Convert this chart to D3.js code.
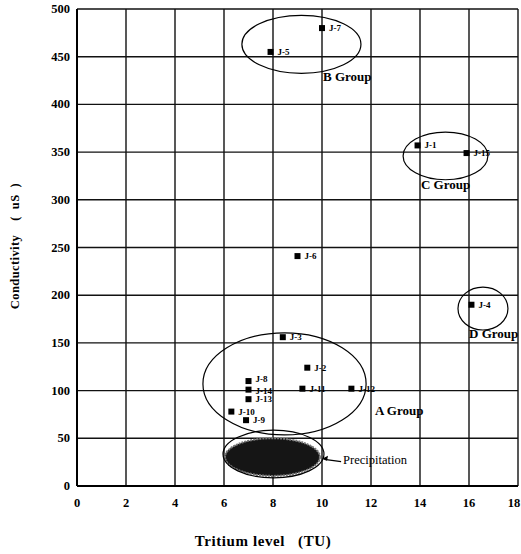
<!DOCTYPE html>
<html>
<head>
<meta charset="utf-8">
<script src="https://cdn.jsdelivr.net/npm/d3@7"></script>
<style>
  body { margin: 0; background: #fff; }
  svg { font-family: "Liberation Serif", "DejaVu Serif", serif; font-weight: bold; }
  .tick-label { font-size: 12.5px; }
  .pt-label { font-size: 9px; }
  .grp-label { font-size: 13px; }
</style>
</head>
<body>
<svg width="521" height="554"></svg>
<script>
// sample wells: tritium (TU) vs conductivity (uS)
const wells = ['J-7', 'J-5', 'J-1', 'J-15', 'J-6', 'J-4', 'J-3', 'J-2', 'J-11', 'J-12', 'J-8', 'J-14', 'J-13', 'J-10', 'J-9']
const tritium = [10.0, 7.9, 13.9, 15.9, 9.0, 16.1, 8.4, 9.4, 9.2, 11.2, 7.0, 7.0, 7.0, 6.3, 6.9]
const conductivity = [480, 455, 357, 349, 241, 190, 156, 124, 102, 102, 110, 101, 91, 78, 69]

// group ellipses, in data units
const groupNames = ['B Group', 'C Group', 'D Group', 'A Group', 'Precipitation']
const groupCx = [9.16, 15.04, 16.57, 8.47, 8.02]
const groupCy = [463, 346, 186, 107, 33.5]
const groupRx = [2.43, 1.73, 1.02, 3.33, 2.06]
const groupRy = [30.4, 25, 22.5, 53.5, 25]
const labelX = [10.04, 14.04, 16.0, 12.16, 10.86]
const labelY = [425, 311, 155, 74, 23]

const xTicks = [0, 2, 4, 6, 8, 10, 12, 14, 16, 18]
const yTicks = [0, 50, 100, 150, 200, 250, 300, 350, 400, 450, 500]

const svg = d3.select('svg')

const x = d3.scaleLinear().domain([0, 18]).range([77, 518])
const y = d3.scaleLinear().domain([0, 500]).range([486, 9])

// grid
svg.append('g')
  .selectAll('line.vx')
  .data(xTicks)
  .enter()
  .append('line')
  .attr('x1', d => x(d)).attr('x2', d => x(d))
  .attr('y1', y(0)).attr('y2', y(500))
  .style('stroke', '#111').style('stroke-width', 1.4)

svg.append('g')
  .selectAll('line.hy')
  .data(yTicks)
  .enter()
  .append('line')
  .attr('x1', x(0)).attr('x2', x(18))
  .attr('y1', d => y(d)).attr('y2', d => y(d))
  .style('stroke', '#111').style('stroke-width', 1.4)

// axes frame heavier
svg.append('line').attr('x1', x(0)).attr('x2', x(0)).attr('y1', y(0)).attr('y2', y(500))
  .style('stroke', '#000').style('stroke-width', 2)
svg.append('line').attr('x1', x(0)).attr('x2', x(18)).attr('y1', y(0)).attr('y2', y(0))
  .style('stroke', '#000').style('stroke-width', 2)

// tick labels
svg.append('g')
  .selectAll('text')
  .data(yTicks)
  .enter()
  .append('text')
  .attr('class', 'tick-label')
  .attr('x', 70)
  .attr('y', d => y(d) + 4)
  .attr('text-anchor', 'end')
  .text(d => d)

// last x label sits against the right edge, as in the scan
svg.append('g')
  .selectAll('text')
  .data(xTicks)
  .enter()
  .append('text')
  .attr('class', 'tick-label')
  .attr('x', d => d === 18 ? x(d) - 4 : x(d))
  .attr('y', 507)
  .attr('text-anchor', 'middle')
  .text(d => d)

// axis titles
svg.append('text')
  .attr('x', 263).attr('y', 546)
  .attr('text-anchor', 'middle')
  .style('font-size', '15px')
  .style('letter-spacing', '0.6px')
  .attr('xml:space', 'preserve')
  .text('Tritium level   (TU)')

svg.append('text')
  .attr('transform', 'translate(19, 246) rotate(-90)')
  .attr('text-anchor', 'middle')
  .style('font-size', '12.5px')
  .style('letter-spacing', '0.4px')
  .attr('xml:space', 'preserve')
  .text('Conductivity    (  uS  )')

// precipitation blob (filled) inside its ellipse
const i = groupNames.indexOf('Precipitation')
svg.append('ellipse')
  .attr('cx', x(groupCx[i]) - 1)
  .attr('cy', y(groupCy[i]) + 3)
  .attr('rx', x(groupRx[i]) - x(0) - 3)
  .attr('ry', y(0) - y(groupRy[i]) - 5)
  .style('fill', '#151515')
  .style('stroke', '#777').style('stroke-width', 2).style('stroke-dasharray', '2 1')

// group ellipses
svg.append('g')
  .selectAll('ellipse')
  .data(groupNames)
  .enter()
  .append('ellipse')
  .attr('cx', (d, k) => x(groupCx[k]))
  .attr('cy', (d, k) => y(groupCy[k]))
  .attr('rx', (d, k) => x(groupRx[k]) - x(0))
  .attr('ry', (d, k) => y(0) - y(groupRy[k]))
  .style('fill', 'none')
  .style('stroke', '#000').style('stroke-width', 1.2)

// group labels
svg.append('g')
  .selectAll('text')
  .data(groupNames)
  .enter()
  .append('text')
  .attr('class', 'grp-label')
  .attr('x', (d, k) => x(labelX[k]))
  .attr('y', (d, k) => y(labelY[k]))
  .style('font-size', (d) => d === 'Precipitation' ? '12.5px' : '13px')
  .style('font-weight', (d) => d === 'Precipitation' ? 'normal' : 'bold')
  .text(d => d)

// arrow to precipitation
svg.append('line')
  .attr('x1', x(10.78)).attr('y1', y(25.5))
  .attr('x2', x(10.1)).attr('y2', y(28))
  .style('stroke', '#000').style('stroke-width', 1.2)
svg.append('path')
  .attr('d', `M${x(10.0)},${y(28.5)} l6,-3 l-1,5 z`)
  .style('fill', '#000')

// points
const pts = svg.append('g')
  .selectAll('g.pt')
  .data(wells)
  .enter()
  .append('g')
  .attr('class', 'pt')
  .attr('transform', (d, k) => `translate(${x(tritium[k])}, ${y(conductivity[k])})`)

pts.append('rect')
  .attr('x', -3).attr('y', -3)
  .attr('width', 6).attr('height', 6)
  .style('fill', '#000')

// labels of the tight J-8 / J-14 pair are nudged apart a little
pts.append('text')
  .attr('class', 'pt-label')
  .attr('x', 7)
  .attr('y', d => d === 'J-8' ? 1 : d === 'J-14' ? 4 : 3)
  .text(d => d)
</script>
</body>
</html>
